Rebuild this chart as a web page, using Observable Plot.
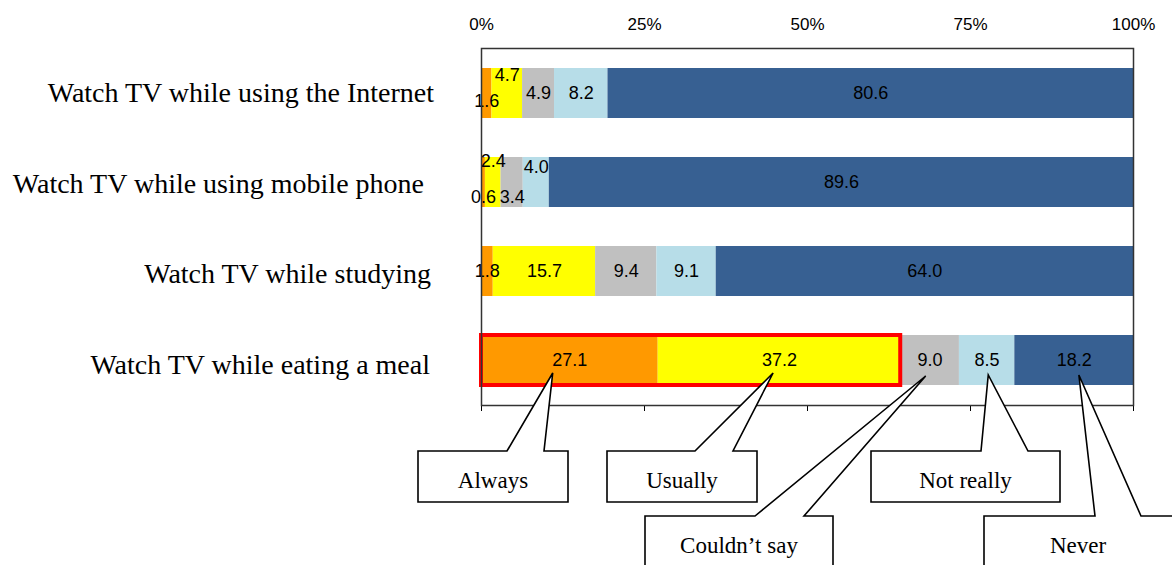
<!DOCTYPE html>
<html>
<head>
<meta charset="utf-8">
<script src="https://cdn.jsdelivr.net/npm/d3@7"></script>
<script src="https://cdn.jsdelivr.net/npm/@observablehq/plot@0.6"></script>
<style>
  html, body { margin: 0; padding: 0; background: #fff; }
  #chart svg { display: block; }
</style>
</head>
<body>
<div id="chart"></div>
<script>
// ---- data ----
const categories = [
  "Watch TV while using the Internet",
  "Watch TV while using mobile phone",
  "Watch TV while studying",
  "Watch TV while eating a meal"
];
const responses = ["Always", "Usually", "Couldn’t say", "Not really", "Never"];
const always     = [1.6, 0.6, 1.8, 27.1];
const usually    = [4.7, 2.4, 15.7, 37.2];
const couldntSay = [4.9, 3.4, 9.4, 9.0];
const notReally  = [8.2, 4.0, 9.1, 8.5];
const never      = [80.6, 89.6, 64.0, 18.2];
const tickValues = [0, 25, 50, 75, 100];
const tickLabels = ["0%", "25%", "50%", "75%", "100%"];

// ---- style ----
const colors = ["#FF9900", "#FFFF00", "#C0C0C0", "#B7DDE8", "#376092"];
const valueLabelDy = [
  [8, -18, 0, 0, 0],
  [14.5, -21, 14.5, -15.5, 0],
  [0, 0, 0, 0, 0],
  [0, 0, 0, 0, 0]
];
const categoryLabelDx = [-47.5, -57.5, -50.5, -51.5];
const categoryLabelDy = [0, 2, 3, 5];
const highlightCategory = 3;
const sansNarrow = "'Liberation Sans Narrow', 'Arial Narrow', 'Liberation Sans', Arial, sans-serif";
const serif = "'Liberation Serif', 'Times New Roman', serif";

// ---- rows built from arrays ----
const series = [always, usually, couldntSay, notReally, never];
const rows = [];
categories.forEach((c, ci) => {
  responses.forEach((r, ri) => {
    rows.push({category: c, response: r, value: series[ri][ci], dy: valueLabelDy[ci][ri]});
  });
});
const highlight = [{
  category: categories[highlightCategory],
  x1: 0,
  x2: always[highlightCategory] + usually[highlightCategory]
}];

const dyGroups = [...new Set(rows.map(d => d.dy))];

const chart = Plot.plot({
  width: 1172,
  height: 565,
  marginLeft: 481,
  marginRight: 39,
  marginTop: 48,
  marginBottom: 160,
  style: {background: "#fff", overflow: "visible"},
  x: {domain: [0, 100], axis: null},
  y: {domain: categories, paddingInner: 0.44, paddingOuter: 0.22, axis: null},
  color: {domain: responses, range: colors},
  marks: [
    Plot.barX(rows, Plot.stackX({x: "value", y: "category", z: "response", fill: "response", order: responses})),
    Plot.rect(highlight, {x1: "x1", x2: "x2", y: "category", fill: "none", stroke: "#FF0000", strokeWidth: 4}),
    ...dyGroups.map(v => Plot.text(rows, Plot.filter(d => d.dy === v, Plot.stackX({
      x: "value", y: "category", z: "response", order: responses,
      text: d => d.value.toFixed(1), dy: v, fill: "#000",
      fontSize: 18, fontFamily: sansNarrow
    })))),
    ...categories.map((c, i) => Plot.text([c], {
      y: d => d, frameAnchor: "left", textAnchor: "end",
      dx: categoryLabelDx[i], dy: categoryLabelDy[i],
      text: d => d, fontSize: 28, fontFamily: serif, fill: "#000"
    })),
    Plot.axisX({anchor: "top", ticks: tickValues, tickSize: 0, tickPadding: 19,
      tickFormat: d => tickLabels[tickValues.indexOf(d)],
      fontSize: 17, fontFamily: sansNarrow, fill: "#000"}),
    Plot.axisX({anchor: "bottom", ticks: tickValues, tickSize: 6, tickFormat: () => "", stroke: "#000"}),
    Plot.frame({stroke: "#333", strokeWidth: 1.5})
  ]
});

document.getElementById("chart").appendChild(chart);

// ---- callout annotations (boxes with pointers to the meal bar) ----
const xs = chart.scale("x");
const callouts = [
  {label: "Always",       box: [418, 451, 568, 502],  notch: [507, 544],  tipPct: 11.0, tipY: 373},
  {label: "Usually",      box: [607, 451, 757, 502],  notch: [695, 733],  tipPct: 44.8, tipY: 373},
  {label: "Couldn’t say", box: [645, 516, 833, 580],  notch: [755, 804],  tipPct: 68.2, tipY: 376},
  {label: "Not really",   box: [871, 451, 1060, 502], notch: [981, 1028], tipPct: 77.8, tipY: 375},
  {label: "Never",        box: [984, 516, 1190, 580], notch: [1095, 1141], tipPct: 91.7, tipY: 375}
];
const svg = d3.select(chart);
const g = svg.append("g");
callouts.forEach(c => {
  const [x0, y0, x1, y1] = c.box;
  const tx = xs.apply(c.tipPct);
  const path = `M${x0},${y0}L${c.notch[0]},${y0}L${tx},${c.tipY}L${c.notch[1]},${y0}L${x1},${y0}L${x1},${y1}L${x0},${y1}Z`;
  g.append("path").attr("d", path).attr("fill", "#fff").attr("stroke", "#000").attr("stroke-width", 1.6).attr("stroke-linejoin", "miter");
  g.append("text")
    .attr("x", (x0 + Math.min(x1, 1172)) / 2)
    .attr("y", y0 + 37)
    .attr("text-anchor", "middle")
    .attr("font-family", serif)
    .attr("font-size", 23)
    .attr("fill", "#000")
    .text(c.label);
});
</script>
</body>
</html>
